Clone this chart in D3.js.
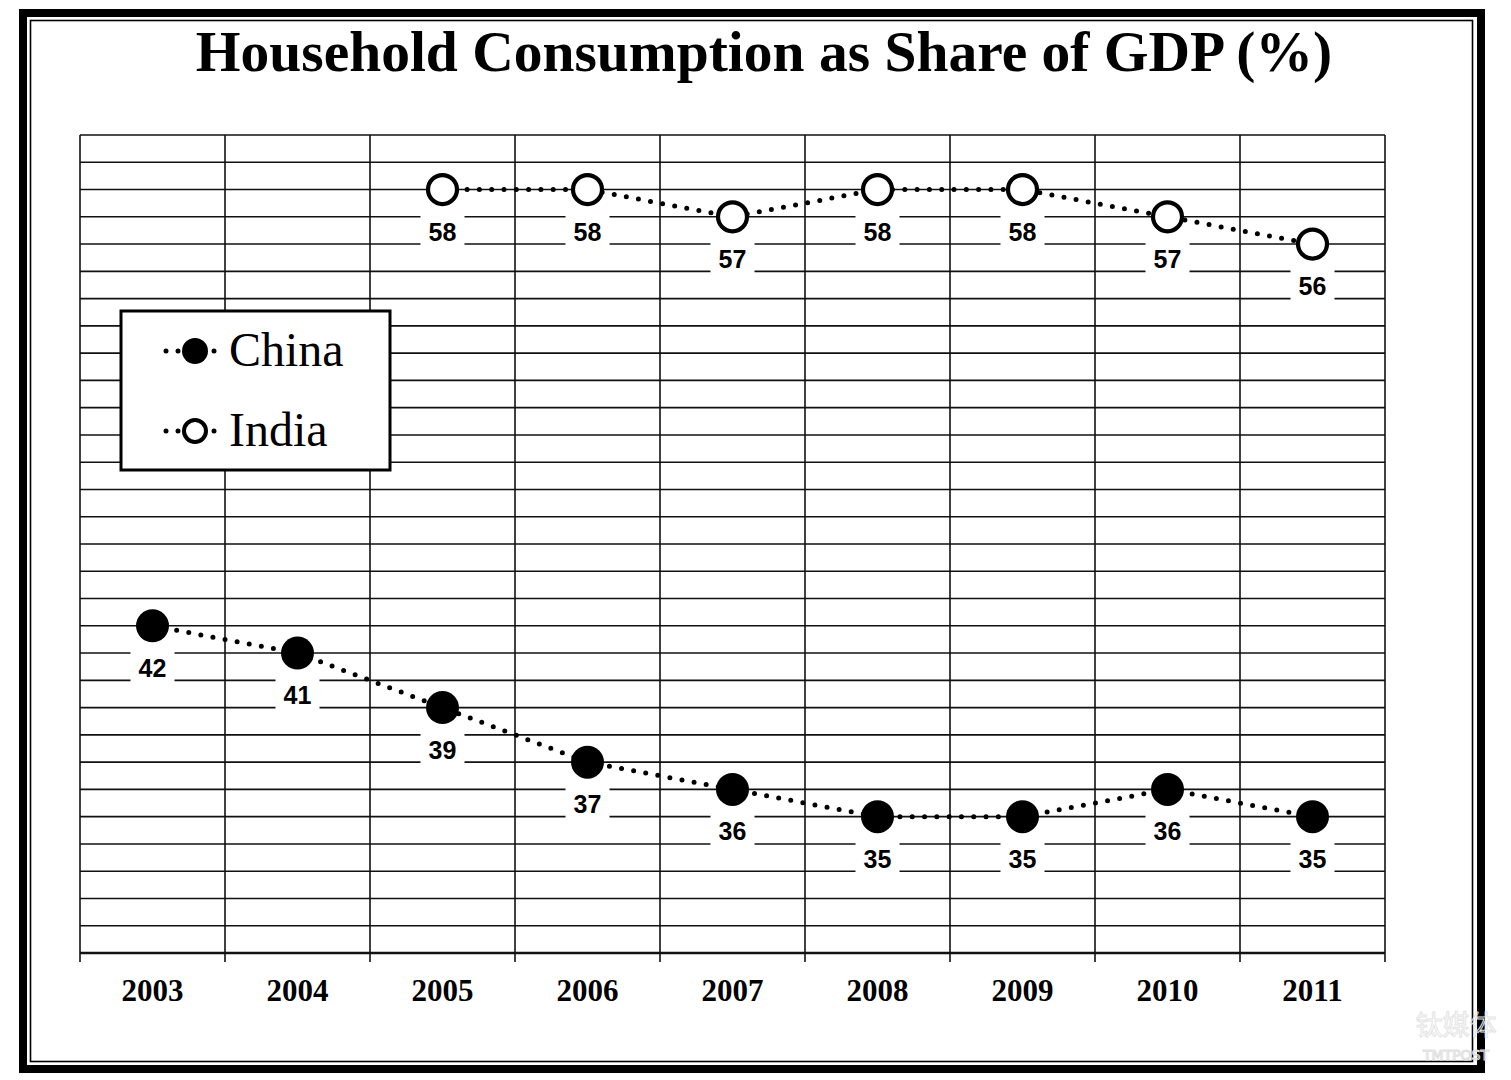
<!DOCTYPE html>
<html>
<head>
<meta charset="utf-8">
<script src="https://cdn.jsdelivr.net/npm/d3@7"></script>
<style>
  body { margin: 0; background: #fff; }
  svg { display: block; }
</style>
</head>
<body>
<div id="chart"></div>
<script>
// data
const years = ["2003", "2004", "2005", "2006", "2007", "2008", "2009", "2010", "2011"];
const china = [42, 41, 39, 37, 36, 35, 35, 36, 35];
const india = [null, null, 58, 58, 57, 58, 58, 57, 56];
const yTicks = d3.range(30, 61, 1);

const W = 1511, H = 1080;
const plot = { left: 80, right: 1385, top: 135, bottom: 953 };

const svg = d3.select("#chart").append("svg")
  .attr("width", W).attr("height", H);

// frame
svg.append("rect")
  .attr("x", 23).attr("y", 13).attr("width", 1458).attr("height", 1056)
  .attr("fill", "none").attr("stroke", "#000").attr("stroke-width", 8);
svg.append("rect")
  .attr("x", 30.5).attr("y", 20.5).attr("width", 1442).attr("height", 1041)
  .attr("fill", "none").attr("stroke", "#000").attr("stroke-width", 1.6);

// title
const title = svg.append("text")
  .attr("x", 764).attr("y", 71)
  .attr("text-anchor", "middle")
  .style("font-family", "'Liberation Serif', serif")
  .style("font-weight", "bold")
  .style("font-size", "52px")
  .text("Household Consumption as Share of GDP (%)");
// fit title to width of the original
const tl = title.node().getComputedTextLength();
title.style("font-size", (52 * 1136 / tl).toFixed(1) + "px");

// scales
const x = d3.scaleBand().domain(years).range([plot.left, plot.right]);
const y = d3.scaleLinear().domain([30, 60]).range([plot.bottom, plot.top]);

const g = svg.append("g");

// horizontal grid
g.selectAll(".hgrid")
  .data(yTicks)
  .join("line")
  .attr("x1", plot.left).attr("x2", plot.right)
  .attr("y1", d => y(d)).attr("y2", d => y(d))
  .attr("stroke", "#111").attr("stroke-width", 1.6);

// vertical grid + ticks
const bounds = years.map(d => x(d)).concat([plot.right]);
g.selectAll(".vgrid")
  .data(bounds)
  .join("line")
  .attr("x1", d => d).attr("x2", d => d)
  .attr("y1", plot.top).attr("y2", plot.bottom + 9)
  .attr("stroke", "#111").attr("stroke-width", 1.6);

g.append("line")
  .attr("x1", plot.left).attr("x2", plot.right)
  .attr("y1", plot.bottom).attr("y2", plot.bottom)
  .attr("stroke", "#111").attr("stroke-width", 2.4);

// x labels
svg.selectAll(".xlab")
  .data(years)
  .join("text")
  .attr("x", d => x(d) + x.bandwidth() / 2)
  .attr("y", 1001)
  .attr("text-anchor", "middle")
  .style("font-family", "'Liberation Serif', serif")
  .style("font-weight", "bold")
  .style("font-size", "31px")
  .text(d => d);

const cx = i => x(years[i]) + x.bandwidth() / 2;

function drawSeries(vals, filled) {
  const pts = vals.map((v, i) => ({ v, i })).filter(d => d.v != null);

  // label boxes (white, break the grid)
  svg.selectAll(null)
    .data(pts)
    .join("rect")
    .attr("x", d => cx(d.i) - 22)
    .attr("y", d => y(d.v) + 17)
    .attr("width", 44)
    .attr("height", 42)
    .attr("fill", "#fff");

  svg.selectAll(null)
    .data(pts)
    .join("text")
    .attr("x", d => cx(d.i))
    .attr("y", d => y(d.v) + 51)
    .attr("text-anchor", "middle")
    .style("font-family", "'Liberation Sans', Arial, sans-serif")
    .style("font-weight", "bold")
    .style("font-size", "25px")
    .text(d => d.v);

  const line = d3.line()
    .x(d => cx(d.i))
    .y(d => y(d.v));

  svg.append("path")
    .datum(pts)
    .attr("d", line)
    .attr("fill", "none")
    .attr("stroke", "#000")
    .attr("stroke-width", 5)
    .attr("stroke-linecap", "round")
    .attr("stroke-dasharray", "0 12.3");

  svg.selectAll(null)
    .data(pts)
    .join("circle")
    .attr("cx", d => cx(d.i))
    .attr("cy", d => y(d.v))
    .attr("r", filled ? 16.5 : 14.5)
    .attr("fill", filled ? "#000" : "#fff")
    .attr("stroke", "#000")
    .attr("stroke-width", filled ? 0 : 4.2);
}

drawSeries(china, true);
drawSeries(india, false);

// legend
const lg = svg.append("g");
lg.append("rect")
  .attr("x", 121).attr("y", 311).attr("width", 269).attr("height", 159)
  .attr("fill", "#fff").attr("stroke", "#000").attr("stroke-width", 3);

const legendItems = [
  { name: "China", filled: true, y: 351 },
  { name: "India", filled: false, y: 431 }
];
legendItems.forEach(it => {
  [166, 178, 214].forEach(dx => {
    lg.append("circle").attr("cx", dx).attr("cy", it.y).attr("r", 2.5).attr("fill", "#000");
  });
  lg.append("circle")
    .attr("cx", 195).attr("cy", it.y)
    .attr("r", it.filled ? 13 : 11)
    .attr("fill", it.filled ? "#000" : "#fff")
    .attr("stroke", "#000")
    .attr("stroke-width", it.filled ? 0 : 4);
  lg.append("text")
    .attr("x", 229).attr("y", it.y + 15)
    .style("font-family", "'Liberation Serif', serif")
    .style("font-size", "48px")
    .text(it.name);
});

// watermark
svg.append("text")
  .attr("x", 1456).attr("y", 1035)
  .attr("text-anchor", "middle")
  .style("font-family", "'Noto Sans CJK SC', sans-serif")
  .style("font-size", "27px")
  .attr("fill", "none").attr("stroke", "#e4e4e4").attr("stroke-width", 1)
  .text("钛媒体");
svg.append("text")
  .attr("x", 1456).attr("y", 1060)
  .attr("text-anchor", "middle")
  .style("font-family", "'DejaVu Sans', sans-serif")
  .style("font-size", "14px")
  .attr("fill", "none").attr("stroke", "#e0e0e0").attr("stroke-width", 1)
  .text("TMTPOST");
</script>
</body>
</html>
